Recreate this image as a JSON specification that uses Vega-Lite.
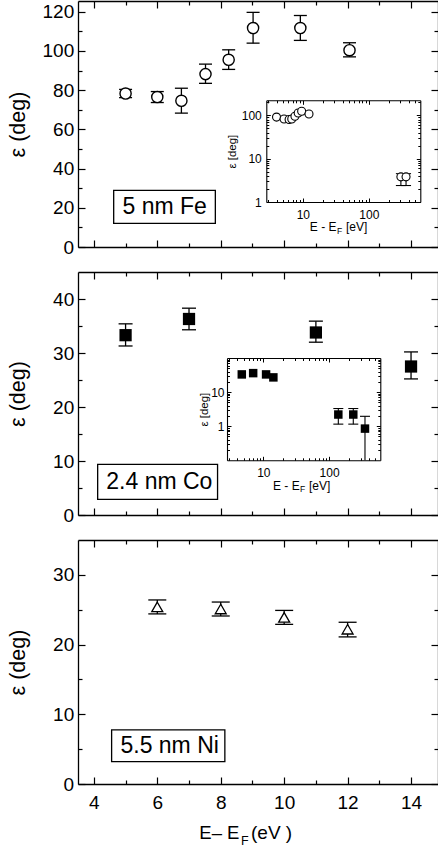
{
  "$schema": "https://vega.github.io/schema/vega-lite/v6.json",
  "padding": {"left": 7, "top": 0, "right": 0, "bottom": 0},
  "spacing": 25,
  "bounds": "flush",
  "datasets": {
    "fe": [
      {"E": 5.0, "eps": 78.3, "lo": 76.2, "hi": 80.4},
      {"E": 6.0, "eps": 76.5, "lo": 73.7, "hi": 79.3},
      {"E": 6.76, "eps": 74.6, "lo": 68.3, "hi": 81.0},
      {"E": 7.52, "eps": 88.2, "lo": 83.5, "hi": 93.3},
      {"E": 8.25, "eps": 95.5, "lo": 90.6, "hi": 100.6},
      {"E": 9.02, "eps": 111.7, "lo": 104.0, "hi": 119.7},
      {"E": 10.51, "eps": 111.7, "lo": 105.4, "hi": 118.1},
      {"E": 12.06, "eps": 100.4, "lo": 97.0, "hi": 104.2}
    ],
    "fe_wide": [
      {"E": 4.0, "eps": 91},
      {"E": 5.2, "eps": 82},
      {"E": 6.2, "eps": 80},
      {"E": 6.8, "eps": 82},
      {"E": 7.6, "eps": 95},
      {"E": 8.5, "eps": 113},
      {"E": 9.6, "eps": 124},
      {"E": 12.4, "eps": 107},
      {"E": 305, "eps": 3.8, "lo": 2.4, "hi": 4.5},
      {"E": 365, "eps": 3.8, "lo": 2.4, "hi": 4.5}
    ],
    "co": [
      {"E": 5.0, "eps": 33.3, "lo": 31.3, "hi": 35.4},
      {"E": 7.0, "eps": 36.3, "lo": 34.3, "hi": 38.3},
      {"E": 11.0, "eps": 33.8, "lo": 32.0, "hi": 35.9},
      {"E": 14.0, "eps": 27.5, "lo": 25.2, "hi": 30.2}
    ],
    "co_wide": [
      {"E": 4.7, "eps": 33},
      {"E": 7.0, "eps": 36},
      {"E": 11.0, "eps": 33},
      {"E": 14.2, "eps": 27},
      {"E": 138, "eps": 2.2, "lo": 1.15, "hi": 3.3},
      {"E": 233, "eps": 2.2, "lo": 1.15, "hi": 3.3},
      {"E": 351, "eps": 0.85, "lo": 0.1, "hi": 1.95}
    ],
    "ni": [
      {"E": 6, "eps": 25.4, "lo": 24.4, "hi": 26.4},
      {"E": 8, "eps": 25.1, "lo": 24.1, "hi": 26.1},
      {"E": 10, "eps": 23.9, "lo": 22.9, "hi": 24.9},
      {"E": 12, "eps": 22.2, "lo": 21.1, "hi": 23.2}
    ]
  },
  "vconcat": [
    {
      "width": 360,
      "height": 246,
      "resolve": {"scale": {"x": "independent", "y": "independent"}, "axis": {"x": "independent", "y": "independent"}},
      "layer": [
        {
          "resolve": {"axis": {"x": "independent", "y": "independent"}},
          "layer": [
            {
              "data": {"name": "fe"},
              "mark": {"type": "rule", "color": "black", "strokeWidth": 1.3},
              "encoding": {
                "x": {"field": "E", "type": "quantitative", "scale": {"domain": [3.5, 14.85], "nice": false, "zero": false},
                  "axis": {"orient": "bottom", "values": [4, 5, 6, 7, 8, 9, 10, 11, 12, 13, 14], "tickSize": {"condition": {"test": "datum.value % 2 === 0", "value": -7}, "value": -4}, "labels": false, "title": null}},
                "y": {"field": "lo", "type": "quantitative", "scale": {"domain": [0, 125.5], "nice": false, "zero": false},
                  "axis": {"orient": "left", "values": [0, 10, 20, 30, 40, 50, 60, 70, 80, 90, 100, 110, 120], "tickSize": {"condition": {"test": "datum.value % 20 === 0", "value": -7}, "value": -4}, "labelExpr": "datum.value % 20 === 0 ? datum.label : ''", "labelFontSize": 19, "labelPadding": 11.3, "labelOverlap": false, "title": "ε (deg)", "titleFontSize": 21.5, "titlePadding": 5, "minExtent": 44, "maxExtent": 44}},
                "y2": {"field": "hi"}
              }
            },
            {
              "data": {"name": "fe"},
              "mark": {"type": "tick", "orient": "horizontal", "size": 13, "thickness": 1.3, "color": "black", "opacity": 1},
              "encoding": {
                "x": {"field": "E", "type": "quantitative", "scale": {"domain": [3.5, 14.85], "nice": false, "zero": false}, "axis": null},
                "y": {"field": "lo", "type": "quantitative", "scale": {"domain": [0, 125.5], "nice": false, "zero": false}, "axis": null}
              }
            },
            {
              "data": {"name": "fe"},
              "mark": {"type": "tick", "orient": "horizontal", "size": 13, "thickness": 1.3, "color": "black", "opacity": 1},
              "encoding": {
                "x": {"field": "E", "type": "quantitative", "scale": {"domain": [3.5, 14.85], "nice": false, "zero": false}, "axis": null},
                "y": {"field": "hi", "type": "quantitative", "scale": {"domain": [0, 125.5], "nice": false, "zero": false}, "axis": null}
              }
            },
            {
              "data": {"name": "fe"},
              "mark": {"type": "point", "shape": "circle", "filled": true, "fill": "white", "stroke": "black", "strokeWidth": 1.4, "size": 125, "opacity": 1},
              "encoding": {
                "x": {"field": "E", "type": "quantitative", "scale": {"domain": [3.5, 14.85], "nice": false, "zero": false},
                  "axis": {"orient": "top", "values": [4, 5, 6, 7, 8, 9, 10, 11, 12, 13, 14], "tickSize": {"condition": {"test": "datum.value % 2 === 0", "value": -7}, "value": -4}, "labels": false, "title": null}},
                "y": {"field": "eps", "type": "quantitative", "scale": {"domain": [0, 125.5], "nice": false, "zero": false},
                  "axis": {"orient": "right", "values": [0, 10, 20, 30, 40, 50, 60, 70, 80, 90, 100, 110, 120], "tickSize": {"condition": {"test": "datum.value % 20 === 0", "value": -7}, "value": -4}, "labels": false, "title": null}}
              }
            },
            {
              "data": {"values": [{}]},
              "mark": {"type": "rect", "fill": "white", "stroke": "black", "strokeWidth": 1.3},
              "encoding": {
                "x": {"datum": 4.625, "type": "quantitative", "scale": {"domain": [3.5, 14.85], "nice": false, "zero": false}, "axis": null},
                "x2": {"datum": 7.83},
                "y": {"datum": 12.1, "type": "quantitative", "scale": {"domain": [0, 125.5], "nice": false, "zero": false}, "axis": null},
                "y2": {"datum": 28.9}
              }
            },
            {
              "data": {"values": [{}]},
              "mark": {"type": "text", "text": "5 nm Fe", "fontSize": 23, "align": "center", "baseline": "middle", "color": "black"},
              "encoding": {
                "x": {"datum": 6.233, "type": "quantitative", "scale": {"domain": [3.5, 14.85], "nice": false, "zero": false}, "axis": null},
                "y": {"datum": 20.2, "type": "quantitative", "scale": {"domain": [0, 125.5], "nice": false, "zero": false}, "axis": null}
              }
            },
            {
              "data": {"values": [{}]},
              "mark": {"type": "text", "text": "E - E", "fontSize": 12, "align": "left", "baseline": "alphabetic", "color": "black"},
              "encoding": {
                "x": {"datum": 10.81, "type": "quantitative", "scale": {"domain": [3.5, 14.85], "nice": false, "zero": false}, "axis": null},
                "y": {"datum": 8.16, "type": "quantitative", "scale": {"domain": [0, 125.5], "nice": false, "zero": false}, "axis": null}
              }
            },
            {
              "data": {"values": [{}]},
              "mark": {"type": "text", "text": "F", "fontSize": 8.5, "align": "left", "baseline": "alphabetic", "color": "black"},
              "encoding": {
                "x": {"datum": 11.665, "type": "quantitative", "scale": {"domain": [3.5, 14.85], "nice": false, "zero": false}, "axis": null},
                "y": {"datum": 6.63, "type": "quantitative", "scale": {"domain": [0, 125.5], "nice": false, "zero": false}, "axis": null}
              }
            },
            {
              "data": {"values": [{}]},
              "mark": {"type": "text", "text": "[eV]", "fontSize": 12, "align": "left", "baseline": "alphabetic", "color": "black"},
              "encoding": {
                "x": {"datum": 11.95, "type": "quantitative", "scale": {"domain": [3.5, 14.85], "nice": false, "zero": false}, "axis": null},
                "y": {"datum": 8.16, "type": "quantitative", "scale": {"domain": [0, 125.5], "nice": false, "zero": false}, "axis": null}
              }
            }
          ]
        },
        {
          "resolve": {"axis": {"x": "independent", "y": "independent"}},
          "layer": [
            {
              "data": {"name": "fe_wide"},
              "mark": {"type": "rule", "color": "black", "strokeWidth": 1.1},
              "encoding": {
                "x": {"field": "E", "type": "quantitative", "scale": {"type": "log", "domain": [2.8, 600], "range": [188.3, 342.3], "nice": false},
                  "axis": {"orient": "bottom", "offset": -45, "values": [3, 4, 5, 6, 7, 8, 9, 10, 20, 30, 40, 50, 60, 70, 80, 90, 100, 200, 300, 400, 500], "tickSize": {"condition": {"test": "abs(log(datum.value)/LN10 - round(log(datum.value)/LN10)) < 0.001", "value": -4}, "value": -2.5}, "labelExpr": "datum.value == 10 ? '10' : datum.value == 100 ? '100' : ''", "labelFontSize": 12, "labelPadding": 11, "labelOverlap": false, "labelFlush": false, "domainWidth": 1.1, "tickWidth": 1, "title": null}},
                "y": {"field": "lo", "type": "quantitative", "scale": {"type": "log", "domain": [1, 222], "range": [201, 99.3], "nice": false},
                  "axis": {"orient": "left", "offset": -188.3, "values": [1, 2, 3, 4, 5, 6, 7, 8, 9, 10, 20, 30, 40, 50, 60, 70, 80, 90, 100, 200], "tickSize": {"condition": {"test": "abs(log(datum.value)/LN10 - round(log(datum.value)/LN10)) < 0.001", "value": -4}, "value": -2.5}, "labelExpr": "datum.value == 1 ? '1' : datum.value == 10 ? '10' : datum.value == 100 ? '100' : ''", "labelFontSize": 12, "labelPadding": 9, "labelOverlap": false, "labelFlush": false, "domainWidth": 1.1, "tickWidth": 1, "title": "ε [deg]", "titleFontSize": 11.5, "titlePadding": 4}},
                "y2": {"field": "hi"}
              }
            },
            {
              "data": {"name": "fe_wide"},
              "mark": {"type": "tick", "orient": "horizontal", "size": 10, "thickness": 1.1, "color": "black", "opacity": 1},
              "encoding": {
                "x": {"field": "E", "type": "quantitative", "scale": {"type": "log", "domain": [2.8, 600], "range": [188.3, 342.3], "nice": false}, "axis": null},
                "y": {"field": "lo", "type": "quantitative", "scale": {"type": "log", "domain": [1, 222], "range": [201, 99.3], "nice": false}, "axis": null}
              }
            },
            {
              "data": {"name": "fe_wide"},
              "mark": {"type": "tick", "orient": "horizontal", "size": 10, "thickness": 1.1, "color": "black", "opacity": 1},
              "encoding": {
                "x": {"field": "E", "type": "quantitative", "scale": {"type": "log", "domain": [2.8, 600], "range": [188.3, 342.3], "nice": false}, "axis": null},
                "y": {"field": "hi", "type": "quantitative", "scale": {"type": "log", "domain": [1, 222], "range": [201, 99.3], "nice": false}, "axis": null}
              }
            },
            {
              "data": {"name": "fe_wide"},
              "mark": {"type": "point", "shape": "circle", "filled": true, "fill": "white", "stroke": "black", "strokeWidth": 1.1, "size": 64, "opacity": 1},
              "encoding": {
                "x": {"field": "E", "type": "quantitative", "scale": {"type": "log", "domain": [2.8, 600], "range": [188.3, 342.3], "nice": false},
                  "axis": {"orient": "top", "offset": -99.3, "values": [3, 4, 5, 6, 7, 8, 9, 10, 20, 30, 40, 50, 60, 70, 80, 90, 100, 200, 300, 400, 500], "tickSize": {"condition": {"test": "abs(log(datum.value)/LN10 - round(log(datum.value)/LN10)) < 0.001", "value": -4}, "value": -2.5}, "labels": false, "domainWidth": 1.1, "tickWidth": 1, "title": null}},
                "y": {"field": "eps", "type": "quantitative", "scale": {"type": "log", "domain": [1, 222], "range": [201, 99.3], "nice": false},
                  "axis": {"orient": "right", "offset": -17.7, "values": [1, 2, 3, 4, 5, 6, 7, 8, 9, 10, 20, 30, 40, 50, 60, 70, 80, 90, 100, 200], "tickSize": {"condition": {"test": "abs(log(datum.value)/LN10 - round(log(datum.value)/LN10)) < 0.001", "value": -4}, "value": -2.5}, "labels": false, "domainWidth": 1.1, "tickWidth": 1, "title": null}}
              }
            }
          ]
        }
      ]
    },
    {
      "width": 360,
      "height": 243,
      "resolve": {"scale": {"x": "independent", "y": "independent"}, "axis": {"x": "independent", "y": "independent"}},
      "layer": [
        {
          "resolve": {"axis": {"x": "independent", "y": "independent"}},
          "layer": [
            {
              "data": {"name": "co"},
              "mark": {"type": "rule", "color": "black", "strokeWidth": 1.3},
              "encoding": {
                "x": {"field": "E", "type": "quantitative", "scale": {"domain": [3.5, 14.85], "nice": false, "zero": false},
                  "axis": {"orient": "bottom", "values": [4, 5, 6, 7, 8, 9, 10, 11, 12, 13, 14], "tickSize": {"condition": {"test": "datum.value % 2 === 0", "value": -7}, "value": -4}, "labels": false, "title": null}},
                "y": {"field": "lo", "type": "quantitative", "scale": {"domain": [0, 45], "nice": false, "zero": false},
                  "axis": {"orient": "left", "values": [0, 5, 10, 15, 20, 25, 30, 35, 40], "tickSize": {"condition": {"test": "datum.value % 10 === 0", "value": -7}, "value": -4}, "labelExpr": "datum.value % 10 === 0 ? datum.label : ''", "labelFontSize": 19, "labelPadding": 11.3, "labelOverlap": false, "title": "ε (deg)", "titleFontSize": 21.5, "titlePadding": 5, "minExtent": 44, "maxExtent": 44}},
                "y2": {"field": "hi"}
              }
            },
            {
              "data": {"name": "co"},
              "mark": {"type": "tick", "orient": "horizontal", "size": 14, "thickness": 1.3, "color": "black", "opacity": 1},
              "encoding": {
                "x": {"field": "E", "type": "quantitative", "scale": {"domain": [3.5, 14.85], "nice": false, "zero": false}, "axis": null},
                "y": {"field": "lo", "type": "quantitative", "scale": {"domain": [0, 45], "nice": false, "zero": false}, "axis": null}
              }
            },
            {
              "data": {"name": "co"},
              "mark": {"type": "tick", "orient": "horizontal", "size": 14, "thickness": 1.3, "color": "black", "opacity": 1},
              "encoding": {
                "x": {"field": "E", "type": "quantitative", "scale": {"domain": [3.5, 14.85], "nice": false, "zero": false}, "axis": null},
                "y": {"field": "hi", "type": "quantitative", "scale": {"domain": [0, 45], "nice": false, "zero": false}, "axis": null}
              }
            },
            {
              "data": {"name": "co"},
              "mark": {"type": "point", "shape": "square", "filled": true, "color": "black", "size": 150, "opacity": 1},
              "encoding": {
                "x": {"field": "E", "type": "quantitative", "scale": {"domain": [3.5, 14.85], "nice": false, "zero": false},
                  "axis": {"orient": "top", "values": [4, 5, 6, 7, 8, 9, 10, 11, 12, 13, 14], "tickSize": {"condition": {"test": "datum.value % 2 === 0", "value": -7}, "value": -4}, "labels": false, "title": null}},
                "y": {"field": "eps", "type": "quantitative", "scale": {"domain": [0, 45], "nice": false, "zero": false},
                  "axis": {"orient": "right", "values": [0, 5, 10, 15, 20, 25, 30, 35, 40], "tickSize": {"condition": {"test": "datum.value % 10 === 0", "value": -7}, "value": -4}, "labels": false, "title": null}}
              }
            },
            {
              "data": {"values": [{}]},
              "mark": {"type": "rect", "fill": "white", "stroke": "black", "strokeWidth": 1.3},
              "encoding": {
                "x": {"datum": 4.12, "type": "quantitative", "scale": {"domain": [3.5, 14.85], "nice": false, "zero": false}, "axis": null},
                "x2": {"datum": 7.9},
                "y": {"datum": 2.91, "type": "quantitative", "scale": {"domain": [0, 45], "nice": false, "zero": false}, "axis": null},
                "y2": {"datum": 9.39}
              }
            },
            {
              "data": {"values": [{}]},
              "mark": {"type": "text", "text": "2.4 nm Co", "fontSize": 23, "align": "center", "baseline": "middle", "color": "black"},
              "encoding": {
                "x": {"datum": 6.065, "type": "quantitative", "scale": {"domain": [3.5, 14.85], "nice": false, "zero": false}, "axis": null},
                "y": {"datum": 6.2, "type": "quantitative", "scale": {"domain": [0, 45], "nice": false, "zero": false}, "axis": null}
              }
            },
            {
              "data": {"values": [{}]},
              "mark": {"type": "text", "text": "E - E", "fontSize": 12, "align": "left", "baseline": "alphabetic", "color": "black"},
              "encoding": {
                "x": {"datum": 9.648, "type": "quantitative", "scale": {"domain": [3.5, 14.85], "nice": false, "zero": false}, "axis": null},
                "y": {"datum": 4.63, "type": "quantitative", "scale": {"domain": [0, 45], "nice": false, "zero": false}, "axis": null}
              }
            },
            {
              "data": {"values": [{}]},
              "mark": {"type": "text", "text": "F", "fontSize": 8.5, "align": "left", "baseline": "alphabetic", "color": "black"},
              "encoding": {
                "x": {"datum": 10.499, "type": "quantitative", "scale": {"domain": [3.5, 14.85], "nice": false, "zero": false}, "axis": null},
                "y": {"datum": 4.17, "type": "quantitative", "scale": {"domain": [0, 45], "nice": false, "zero": false}, "axis": null}
              }
            },
            {
              "data": {"values": [{}]},
              "mark": {"type": "text", "text": "[eV]", "fontSize": 12, "align": "left", "baseline": "alphabetic", "color": "black"},
              "encoding": {
                "x": {"datum": 10.783, "type": "quantitative", "scale": {"domain": [3.5, 14.85], "nice": false, "zero": false}, "axis": null},
                "y": {"datum": 4.63, "type": "quantitative", "scale": {"domain": [0, 45], "nice": false, "zero": false}, "axis": null}
              }
            }
          ]
        },
        {
          "resolve": {"axis": {"x": "independent", "y": "independent"}},
          "layer": [
            {
              "data": {"name": "co_wide"},
              "mark": {"type": "rule", "color": "black", "strokeWidth": 1.1},
              "encoding": {
                "x": {"field": "E", "type": "quantitative", "scale": {"type": "log", "domain": [2.8, 600], "range": [149, 302.3], "nice": false},
                  "axis": {"orient": "bottom", "offset": -54.7, "values": [3, 4, 5, 6, 7, 8, 9, 10, 20, 30, 40, 50, 60, 70, 80, 90, 100, 200, 300, 400, 500], "tickSize": {"condition": {"test": "abs(log(datum.value)/LN10 - round(log(datum.value)/LN10)) < 0.001", "value": -4}, "value": -2.5}, "labelExpr": "datum.value == 10 ? '10' : datum.value == 100 ? '100' : ''", "labelFontSize": 12, "labelPadding": 11, "labelOverlap": false, "labelFlush": false, "domainWidth": 1.1, "tickWidth": 1, "title": null}},
                "y": {"field": "lo", "type": "quantitative", "scale": {"type": "log", "domain": [0.1, 100], "range": [188.3, 86], "nice": false},
                  "axis": {"orient": "left", "offset": -149, "values": [0.2, 0.3, 0.4, 0.5, 0.6, 0.7, 0.8, 0.9, 1, 2, 3, 4, 5, 6, 7, 8, 9, 10, 20, 30, 40, 50, 60, 70, 80, 90], "tickSize": {"condition": {"test": "abs(log(datum.value)/LN10 - round(log(datum.value)/LN10)) < 0.001", "value": -4}, "value": -2.5}, "labelExpr": "datum.value == 1 ? '1' : datum.value == 10 ? '10' : ''", "labelFontSize": 12, "labelPadding": 7, "labelOverlap": false, "labelFlush": false, "domainWidth": 1.1, "tickWidth": 1, "title": "ε [deg]", "titleFontSize": 11.5, "titlePadding": 1}},
                "y2": {"field": "hi"}
              }
            },
            {
              "data": {"name": "co_wide"},
              "mark": {"type": "tick", "orient": "horizontal", "size": 10, "thickness": 1.1, "color": "black", "opacity": 1},
              "encoding": {
                "x": {"field": "E", "type": "quantitative", "scale": {"type": "log", "domain": [2.8, 600], "range": [149, 302.3], "nice": false}, "axis": null},
                "y": {"field": "hi", "type": "quantitative", "scale": {"type": "log", "domain": [0.1, 100], "range": [188.3, 86], "nice": false}, "axis": null}
              }
            },
            {
              "data": {"name": "co_wide"},
              "transform": [{"filter": "datum.lo > 0.1"}],
              "mark": {"type": "tick", "orient": "horizontal", "size": 10, "thickness": 1.1, "color": "black", "opacity": 1},
              "encoding": {
                "x": {"field": "E", "type": "quantitative", "scale": {"type": "log", "domain": [2.8, 600], "range": [149, 302.3], "nice": false}, "axis": null},
                "y": {"field": "lo", "type": "quantitative", "scale": {"type": "log", "domain": [0.1, 100], "range": [188.3, 86], "nice": false}, "axis": null}
              }
            },
            {
              "data": {"name": "co_wide"},
              "mark": {"type": "point", "shape": "square", "filled": true, "color": "black", "size": 72, "opacity": 1},
              "encoding": {
                "x": {"field": "E", "type": "quantitative", "scale": {"type": "log", "domain": [2.8, 600], "range": [149, 302.3], "nice": false},
                  "axis": {"orient": "top", "offset": -86, "values": [3, 4, 5, 6, 7, 8, 9, 10, 20, 30, 40, 50, 60, 70, 80, 90, 100, 200, 300, 400, 500], "tickSize": {"condition": {"test": "abs(log(datum.value)/LN10 - round(log(datum.value)/LN10)) < 0.001", "value": -4}, "value": -2.5}, "labels": false, "domainWidth": 1.1, "tickWidth": 1, "title": null}},
                "y": {"field": "eps", "type": "quantitative", "scale": {"type": "log", "domain": [0.1, 100], "range": [188.3, 86], "nice": false},
                  "axis": {"orient": "right", "offset": -57.7, "values": [0.2, 0.3, 0.4, 0.5, 0.6, 0.7, 0.8, 0.9, 1, 2, 3, 4, 5, 6, 7, 8, 9, 10, 20, 30, 40, 50, 60, 70, 80, 90], "tickSize": {"condition": {"test": "abs(log(datum.value)/LN10 - round(log(datum.value)/LN10)) < 0.001", "value": -4}, "value": -2.5}, "labels": false, "domainWidth": 1.1, "tickWidth": 1, "title": null}}
              }
            }
          ]
        }
      ]
    },
    {
      "width": 360,
      "height": 244,
      "resolve": {"axis": {"x": "independent", "y": "independent"}},
      "layer": [
        {
          "data": {"name": "ni"},
          "mark": {"type": "rule", "color": "black", "strokeWidth": 1.3},
          "encoding": {
            "x": {"field": "E", "type": "quantitative", "scale": {"domain": [3.5, 14.85], "nice": false, "zero": false},
              "axis": {"orient": "bottom", "values": [4, 5, 6, 7, 8, 9, 10, 11, 12, 13, 14], "tickSize": {"condition": {"test": "datum.value % 2 === 0", "value": -7}, "value": -4}, "labelExpr": "datum.value % 2 === 0 ? datum.label : ''", "labelFontSize": 19, "labelPadding": 16, "labelOverlap": false, "labelFlush": false, "title": null}},
            "y": {"field": "lo", "type": "quantitative", "scale": {"domain": [0, 35], "nice": false, "zero": false},
              "axis": {"orient": "left", "values": [0, 5, 10, 15, 20, 25, 30], "tickSize": {"condition": {"test": "datum.value % 10 === 0", "value": -7}, "value": -4}, "labelExpr": "datum.value % 10 === 0 ? datum.label : ''", "labelFontSize": 19, "labelPadding": 11.3, "labelOverlap": false, "title": "ε (deg)", "titleFontSize": 21.5, "titlePadding": 5, "minExtent": 44, "maxExtent": 44}},
            "y2": {"field": "hi"}
          }
        },
        {
          "data": {"name": "ni"},
          "mark": {"type": "tick", "orient": "horizontal", "size": 18, "thickness": 1.3, "color": "black", "opacity": 1},
          "encoding": {
            "x": {"field": "E", "type": "quantitative", "scale": {"domain": [3.5, 14.85], "nice": false, "zero": false}, "axis": null},
            "y": {"field": "lo", "type": "quantitative", "scale": {"domain": [0, 35], "nice": false, "zero": false}, "axis": null}
          }
        },
        {
          "data": {"name": "ni"},
          "mark": {"type": "tick", "orient": "horizontal", "size": 18, "thickness": 1.3, "color": "black", "opacity": 1},
          "encoding": {
            "x": {"field": "E", "type": "quantitative", "scale": {"domain": [3.5, 14.85], "nice": false, "zero": false}, "axis": null},
            "y": {"field": "hi", "type": "quantitative", "scale": {"domain": [0, 35], "nice": false, "zero": false}, "axis": null}
          }
        },
        {
          "data": {"name": "ni"},
          "mark": {"type": "point", "shape": "triangle-up", "filled": true, "fill": "white", "stroke": "black", "strokeWidth": 1.3, "size": 120, "opacity": 1},
          "encoding": {
            "x": {"field": "E", "type": "quantitative", "scale": {"domain": [3.5, 14.85], "nice": false, "zero": false},
              "axis": {"orient": "top", "values": [4, 5, 6, 7, 8, 9, 10, 11, 12, 13, 14], "tickSize": {"condition": {"test": "datum.value % 2 === 0", "value": -7}, "value": -4}, "labels": false, "title": null}},
            "y": {"field": "eps", "type": "quantitative", "scale": {"domain": [0, 35], "nice": false, "zero": false},
              "axis": {"orient": "right", "values": [0, 5, 10, 15, 20, 25, 30], "tickSize": {"condition": {"test": "datum.value % 10 === 0", "value": -7}, "value": -4}, "labels": false, "title": null}}
          }
        },
        {
          "data": {"values": [{}]},
          "mark": {"type": "rect", "fill": "white", "stroke": "black", "strokeWidth": 1.3},
          "encoding": {
            "x": {"datum": 4.56, "type": "quantitative", "scale": {"domain": [3.5, 14.85], "nice": false, "zero": false}, "axis": null},
            "x2": {"datum": 8.13},
            "y": {"datum": 3.2, "type": "quantitative", "scale": {"domain": [0, 35], "nice": false, "zero": false}, "axis": null},
            "y2": {"datum": 7.75}
          }
        },
        {
          "data": {"values": [{}]},
          "mark": {"type": "text", "text": "5.5 nm Ni", "fontSize": 23, "align": "center", "baseline": "middle", "color": "black"},
          "encoding": {
            "x": {"datum": 6.39, "type": "quantitative", "scale": {"domain": [3.5, 14.85], "nice": false, "zero": false}, "axis": null},
            "y": {"datum": 5.38, "type": "quantitative", "scale": {"domain": [0, 35], "nice": false, "zero": false}, "axis": null}
          }
        },
        {
          "data": {"values": [{}]},
          "mark": {"type": "text", "text": "E– E", "fontSize": 18.5, "align": "left", "baseline": "alphabetic", "color": "black"},
          "encoding": {
            "x": {"datum": 7.324, "type": "quantitative", "scale": {"domain": [3.5, 14.85], "nice": false, "zero": false}, "axis": null},
            "y": {"datum": -7.93, "type": "quantitative", "scale": {"domain": [0, 35], "nice": false, "zero": false}, "axis": null}
          }
        },
        {
          "data": {"values": [{}]},
          "mark": {"type": "text", "text": "F", "fontSize": 12.5, "align": "left", "baseline": "alphabetic", "color": "black"},
          "encoding": {
            "x": {"datum": 8.639, "type": "quantitative", "scale": {"domain": [3.5, 14.85], "nice": false, "zero": false}, "axis": null},
            "y": {"datum": -8.68, "type": "quantitative", "scale": {"domain": [0, 35], "nice": false, "zero": false}, "axis": null}
          }
        },
        {
          "data": {"values": [{}]},
          "mark": {"type": "text", "text": "(eV )", "fontSize": 19, "align": "left", "baseline": "alphabetic", "color": "black"},
          "encoding": {
            "x": {"datum": 8.954, "type": "quantitative", "scale": {"domain": [3.5, 14.85], "nice": false, "zero": false}, "axis": null},
            "y": {"datum": -7.93, "type": "quantitative", "scale": {"domain": [0, 35], "nice": false, "zero": false}, "axis": null}
          }
        }
      ]
    }
  ],
  "config": {
    "font": "Liberation Sans",
    "view": {"stroke": null},
    "axis": {
      "grid": false,
      "domainColor": "black",
      "domainWidth": 1.3,
      "tickColor": "black",
      "tickWidth": 1.2,
      "labelColor": "black",
      "titleColor": "black",
      "labelFont": "Liberation Sans",
      "titleFont": "Liberation Sans",
      "titleFontWeight": "normal"
    },
    "text": {"font": "Liberation Sans"}
  }
}
